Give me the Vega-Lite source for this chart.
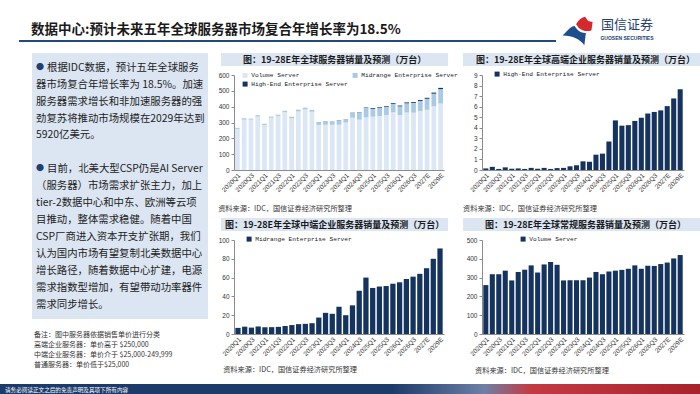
{
  "$schema": "https://vega.github.io/schema/vega-lite/v6.json",
  "background": "white",
  "padding": {"top": 16, "left": 0, "right": 0, "bottom": 0},
  "config": {
    "font": "Noto Sans CJK SC",
    "view": {"stroke": null},
    "axisX": {"labelAngle": -45, "labelFontSize": 6.5, "labelFont": "Liberation Sans", "labelColor": "#333333", "domainColor": "#8c8c8c", "ticks": false, "labelPadding": 2, "labelOverlap": false, "title": null, "grid": false},
    "axisY": {"labelFontSize": 6.5, "labelFont": "Liberation Sans", "labelColor": "#333333", "domainColor": "#8c8c8c", "tickColor": "#8c8c8c", "tickSize": 3, "labelPadding": 2, "title": null, "grid": false},
    "legend": {"symbolType": "square", "symbolSize": 25, "symbolStrokeWidth": 0, "labelFont": "Liberation Mono", "labelFontSize": 6.2, "labelColor": "#222222", "padding": 0, "rowPadding": 2, "columnPadding": 4, "labelOffset": 3, "title": null}
  },
  "datasets": {
    "servers": [
      {"q": "2020Q1", "volume": 260, "midrange": 6.5, "highend": 0.15},
      {"q": "2020Q2", "volume": 318, "midrange": 7.8, "highend": 0.30},
      {"q": "2020Q3", "volume": 318, "midrange": 6.8, "highend": 0.10},
      {"q": "2020Q4", "volume": 337, "midrange": 8.0, "highend": 0.25},
      {"q": "2021Q1", "volume": 285, "midrange": 7.3, "highend": 0.12},
      {"q": "2021Q2", "volume": 330, "midrange": 7.3, "highend": 0.15},
      {"q": "2021Q3", "volume": 342, "midrange": 7.6, "highend": 0.10},
      {"q": "2021Q4", "volume": 365, "midrange": 8.5, "highend": 0.20},
      {"q": "2022Q1", "volume": 327, "midrange": 9.5, "highend": 0.12},
      {"q": "2022Q2", "volume": 370, "midrange": 10.5, "highend": 0.20},
      {"q": "2022Q3", "volume": 383, "midrange": 10.8, "highend": 0.10},
      {"q": "2022Q4", "volume": 368, "midrange": 11.5, "highend": 0.18},
      {"q": "2023Q1", "volume": 285, "midrange": 17.5, "highend": 0.20},
      {"q": "2023Q2", "volume": 286, "midrange": 22.5, "highend": 0.35},
      {"q": "2023Q3", "volume": 286, "midrange": 21.5, "highend": 0.45},
      {"q": "2023Q4", "volume": 286, "midrange": 29.0, "highend": 0.82},
      {"q": "2024Q1", "volume": 300, "midrange": 20.0, "highend": 0.78},
      {"q": "2024Q2", "volume": 330, "midrange": 30.5, "highend": 1.45},
      {"q": "2024Q3", "volume": 318, "midrange": 46.0, "highend": 1.55},
      {"q": "2024Q4", "volume": 332, "midrange": 60.0, "highend": 2.70},
      {"q": "2025Q1", "volume": 337, "midrange": 49.0, "highend": 4.70},
      {"q": "2025Q2", "volume": 341, "midrange": 50.5, "highend": 4.20},
      {"q": "2025Q3", "volume": 347, "midrange": 51.0, "highend": 4.25},
      {"q": "2025Q4", "volume": 365, "midrange": 53.5, "highend": 4.65},
      {"q": "2026Q1", "volume": 347, "midrange": 55.0, "highend": 4.95},
      {"q": "2026Q2", "volume": 363, "midrange": 58.5, "highend": 5.35},
      {"q": "2026Q3", "volume": 362, "midrange": 61.0, "highend": 5.50},
      {"q": "2026Q4", "volume": 372, "midrange": 64.0, "highend": 5.65},
      {"q": "2027E", "volume": 380, "midrange": 70.0, "highend": 6.05},
      {"q": "2028E", "volume": 402, "midrange": 80.0, "highend": 6.78},
      {"q": "2029E", "volume": 420, "midrange": 91.0, "highend": 7.65}
    ],
    "bodytext": [
      {"n": 1, "b": true, "t": "根据IDC数据，预计五年全球服务"},
      {"n": 2, "b": false, "t": "器市场复合年增长率为 18.5%。加速"},
      {"n": 3, "b": false, "t": "服务器需求增长和非加速服务器的强"},
      {"n": 4, "b": false, "t": "劲复苏将推动市场规模在2029年达到"},
      {"n": 5, "b": false, "t": "5920亿美元。"},
      {"n": 7, "b": true, "t": "目前，北美大型CSP仍是AI Server"},
      {"n": 8, "b": false, "t": "（服务器）市场需求扩张主力，加上"},
      {"n": 9, "b": false, "t": "tier-2数据中心和中东、欧洲等云项"},
      {"n": 10, "b": false, "t": "目推动，整体需求稳健。随着中国"},
      {"n": 11, "b": false, "t": "CSP厂商进入资本开支扩张期，我们"},
      {"n": 12, "b": false, "t": "认为国内市场有望复制北美数据中心"},
      {"n": 13, "b": false, "t": "增长路径，随着数据中心扩建，电源"},
      {"n": 14, "b": false, "t": "需求指数型增加，有望带动功率器件"},
      {"n": 15, "b": false, "t": "需求同步增长。"}
    ],
    "notes": [
      {"n": 1, "t": "备注：图中服务器依据销售单价进行分类"},
      {"n": 2, "t": "高端企业服务器：单价高于 $250,000"},
      {"n": 3, "t": "中端企业服务器：单价介于 $25,000-249,999"},
      {"n": 4, "t": "普通服务器：单价低于$25,000"}
    ]
  },
  "spacing": 1,
  "resolve": {"scale": {"color": "independent"}, "legend": {"color": "independent"}},
  "vconcat": [
    {
      "spacing": 17,
      "hconcat": [
        {"width": 1, "height": 1, "data": {"values": [{}]}, "mark": {"type": "text"}, "encoding": {"text": {"value": ""}}},
        {
          "spacing": 5,
          "hconcat": [
            {
              "width": 537,
              "height": 10,
              "data": {"values": [{}]},
              "title": {"text": "数据中心:预计未来五年全球服务器市场复合年增长率为18.5%", "anchor": "start", "frame": "group", "dx": 12, "offset": -5.5, "fontSize": 13.5, "fontWeight": "bold", "color": "#1a1a1a", "font": "Noto Sans CJK SC"},
              "mark": {"type": "rule", "color": "#1f4a7c", "strokeWidth": 2},
              "encoding": {
                "y": {"datum": 0, "type": "quantitative", "scale": {"domain": [0, 1]}, "axis": null},
                "x": {"datum": 0, "type": "quantitative", "scale": {"domain": [0, 1]}, "axis": {"labels": false, "ticks": false, "domain": false, "grid": false, "title": null, "minExtent": 4, "maxExtent": 4}},
                "x2": {"datum": 1}
              }
            },
            {
              "width": 130,
              "height": 10,
              "encoding": {
                "x": {"type": "quantitative", "scale": {"domain": [0, 1]}, "axis": null},
                "y": {"type": "quantitative", "scale": {"domain": [0, 1]}, "axis": null}
              },
              "layer": [
                {
                  "data": {"values": [{}]},
                  "mark": {"type": "point", "filled": true, "opacity": 1, "size": 900, "strokeWidth": 0, "color": "#1f4e8c", "shape": "M -1 0.35 C -0.6 -0.05 -0.4 -0.3 -0.2 -0.28 C 0 0.05 0.3 0.22 0.55 0.18 L 0.45 1 C 0.15 0.6 -0.3 0.35 -1 0.35 Z"},
                  "encoding": {"x": {"datum": 0.12, "type": "quantitative"}, "y": {"datum": 1.08, "type": "quantitative"}}
                },
                {
                  "data": {"values": [{}]},
                  "mark": {"type": "point", "filled": true, "opacity": 1, "size": 900, "strokeWidth": 0, "color": "#d42a2e", "shape": "M -0.1 -0.4 C 0.05 -0.7 0.3 -0.85 0.5 -0.9 L 0.7 -0.62 L 1 -0.55 L 0.92 0.02 C 0.6 0.1 0.3 0.05 0.08 -0.15 Z"},
                  "encoding": {"x": {"datum": 0.12, "type": "quantitative"}, "y": {"datum": 1.08, "type": "quantitative"}}
                },
                {
                  "data": {"values": [{"t": "国信证券"}]},
                  "mark": {"type": "text", "fontSize": 13, "color": "#24406e", "font": "Noto Sans CJK SC"},
                  "encoding": {"x": {"datum": 0.5, "type": "quantitative"}, "y": {"datum": 1.6, "type": "quantitative"}, "text": {"field": "t"}}
                },
                {
                  "data": {"values": [{"t": "GUOSEN SECURITIES"}]},
                  "mark": {"type": "text", "fontSize": 5, "fontWeight": "bold", "color": "#24406e", "font": "Liberation Sans"},
                  "encoding": {"x": {"datum": 0.5, "type": "quantitative"}, "y": {"datum": 0.3, "type": "quantitative"}, "text": {"field": "t"}}
                }
              ]
            }
          ]
        }
      ]
    },
    {
      "spacing": 31,
      "resolve": {"scale": {"color": "independent"}, "legend": {"color": "independent"}},
      "hconcat": [
        {"width": 1, "height": 1, "data": {"values": [{}]}, "mark": {"type": "text"}, "encoding": {"text": {"value": ""}}},
        {
          "spacing": 10,
          "resolve": {"scale": {"color": "independent"}, "legend": {"color": "independent"}},
          "hconcat": [
            {
              "spacing": 11,
              "vconcat": [
                {
                  "width": 176,
                  "height": 266,
                  "view": {"fill": "#dce6f2", "stroke": null},
                  "data": {"name": "bodytext"},
                  "encoding": {
                    "x": {"datum": 0, "type": "quantitative", "scale": {"domain": [0, 1]}, "axis": null},
                    "y": {"field": "n", "type": "quantitative", "scale": {"domain": [0.133, 15.83], "reverse": true, "nice": false, "zero": false}, "axis": null}
                  },
                  "layer": [
                    {
                      "transform": [{"filter": "datum.b"}],
                      "mark": {"type": "text", "align": "left", "baseline": "middle", "dx": 4, "fontSize": 8, "color": "#1f3f73"},
                      "encoding": {"text": {"value": "●"}}
                    },
                    {
                      "transform": [{"filter": "datum.b"}],
                      "mark": {"type": "text", "align": "left", "baseline": "middle", "dx": 15, "fontSize": 10.4, "color": "#222222"},
                      "encoding": {"text": {"field": "t"}}
                    },
                    {
                      "transform": [{"filter": "!datum.b"}],
                      "mark": {"type": "text", "align": "left", "baseline": "middle", "dx": 4, "fontSize": 10.4, "color": "#222222"},
                      "encoding": {"text": {"field": "t"}}
                    }
                  ]
                },
                {
                  "width": 176,
                  "height": 40,
                  "data": {"name": "notes"},
                  "mark": {"type": "text", "align": "left", "baseline": "middle", "dx": 2, "fontSize": 7, "color": "#333333"},
                  "encoding": {
                    "x": {"datum": 0, "type": "quantitative", "scale": {"domain": [0, 1]}, "axis": null},
                    "y": {"field": "n", "type": "quantitative", "scale": {"domain": [0.5, 4.5], "reverse": true, "nice": false, "zero": false}, "axis": null},
                    "text": {"field": "t"}
                  }
                }
              ]
            },
            {
              "columns": 2,
              "align": "each",
              "spacing": {"row": 5, "column": 5},
              "resolve": {"scale": {"color": "independent"}, "legend": {"color": "independent"}},
              "concat": [
                {
                  "width": 214, "height": 13,
                  "encoding": {"x": {"type": "quantitative", "scale": {"domain": [0, 1]}, "axis": null}},
                  "layer": [
                    {"data": {"values": [{}]}, "mark": {"type": "rect", "color": "#dce6f2"}, "encoding": {"x": {"datum": -0.0607, "type": "quantitative"}, "x2": {"datum": 1}}},
                    {"data": {"values": [{"t": "图：19-28E年全球服务器销量及预测（万台）"}]}, "mark": {"type": "text", "fontSize": 9, "fontWeight": "bold", "color": "#1a1a1a"}, "encoding": {"x": {"datum": 0.47, "type": "quantitative"}, "text": {"field": "t"}}}
                  ]
                },
                {
                  "width": 226, "height": 13,
                  "encoding": {"x": {"type": "quantitative", "scale": {"domain": [0, 1]}, "axis": null}},
                  "layer": [
                    {"data": {"values": [{}]}, "mark": {"type": "rect", "color": "#dce6f2"}, "encoding": {"x": {"datum": -0.084, "type": "quantitative"}, "x2": {"datum": 1}}},
                    {"data": {"values": [{"t": "图：19-28E年全球高端企业服务器销量及预测（万台）"}]}, "mark": {"type": "text", "fontSize": 9, "fontWeight": "bold", "color": "#1a1a1a"}, "encoding": {"x": {"datum": 0.458, "type": "quantitative"}, "text": {"field": "t"}}}
                  ]
                },
                {
                  "width": 210, "height": 95,
                  "data": {"name": "servers"},
                  "transform": [{"fold": ["volume", "midrange", "highend"], "as": ["series", "value"]}],
                  "mark": {"type": "bar"},
                  "encoding": {
                    "x": {"field": "q", "type": "nominal", "sort": null, "scale": {"paddingInner": 0.3, "paddingOuter": 0.15}, "axis": {"values": ["2020Q1", "2020Q3", "2021Q1", "2021Q3", "2022Q1", "2022Q3", "2023Q1", "2023Q3", "2024Q1", "2024Q3", "2025Q1", "2025Q3", "2026Q1", "2026Q3", "2027E", "2029E"]}},
                    "y": {"field": "value", "type": "quantitative", "stack": "zero", "scale": {"domain": [0, 600], "nice": false}, "axis": {"values": [0, 100, 200, 300, 400, 500, 600], "minExtent": 13, "maxExtent": 13}},
                    "color": {"field": "series", "type": "nominal", "scale": {"domain": ["volume", "midrange", "highend"], "range": ["#dbe7f4", "#a9c9e4", "#15335f"]}, "legend": {"orient": "none", "legendX": 8, "legendY": -3, "columns": 2, "direction": "horizontal", "labelExpr": "datum.label == 'volume' ? 'Volume Server' : datum.label == 'midrange' ? 'Midrange Enterprise Server' : 'High-End Enterprise Server'"}},
                    "order": {"field": "series", "sort": "descending"}
                  },
                  "title": {"text": "资料来源：IDC，国信证券经济研究所整理", "orient": "bottom", "anchor": "start", "frame": "bounds", "offset": 12, "fontSize": 7.2, "fontWeight": "normal", "color": "#333333"}
                },
                {
                  "width": 202, "height": 95,
                  "data": {"name": "servers"},
                  "mark": {"type": "bar"},
                  "encoding": {
                    "x": {"field": "q", "type": "nominal", "sort": null, "scale": {"paddingInner": 0.22, "paddingOuter": 0.2}, "axis": {"values": ["2020Q1", "2020Q3", "2021Q1", "2021Q3", "2022Q1", "2022Q3", "2023Q1", "2023Q3", "2024Q1", "2024Q3", "2025Q1", "2025Q3", "2026Q1", "2026Q3", "2027E", "2029E"]}},
                    "y": {"field": "highend", "type": "quantitative", "scale": {"domain": [0, 9], "nice": false}, "axis": {"values": [0, 1, 2, 3, 4, 5, 6, 7, 8, 9], "minExtent": 19, "maxExtent": 19}},
                    "color": {"datum": "High-End Enterprise Server", "type": "nominal", "scale": {"range": ["#15335f"]}, "legend": {"orient": "none", "legendX": 12, "legendY": -4}}
                  },
                  "title": {"text": "资料来源：IDC，国信证券经济研究所整理", "orient": "bottom", "anchor": "start", "frame": "bounds", "offset": 12, "fontSize": 7.2, "fontWeight": "normal", "color": "#333333"}
                },
                {
                  "width": 214, "height": 13,
                  "encoding": {"x": {"type": "quantitative", "scale": {"domain": [0, 1]}, "axis": null}},
                  "layer": [
                    {"data": {"values": [{}]}, "mark": {"type": "rect", "color": "#dce6f2"}, "encoding": {"x": {"datum": -0.0607, "type": "quantitative"}, "x2": {"datum": 1}}},
                    {"data": {"values": [{"t": "图：19-28E年全球中端企业服务器销量及预测（万台）"}]}, "mark": {"type": "text", "fontSize": 9, "fontWeight": "bold", "color": "#1a1a1a"}, "encoding": {"x": {"datum": 0.47, "type": "quantitative"}, "text": {"field": "t"}}}
                  ]
                },
                {
                  "width": 226, "height": 13,
                  "encoding": {"x": {"type": "quantitative", "scale": {"domain": [0, 1]}, "axis": null}},
                  "layer": [
                    {"data": {"values": [{}]}, "mark": {"type": "rect", "color": "#dce6f2"}, "encoding": {"x": {"datum": -0.084, "type": "quantitative"}, "x2": {"datum": 1}}},
                    {"data": {"values": [{"t": "图：19-28E年全球常规服务器销量及预测（万台）"}]}, "mark": {"type": "text", "fontSize": 9, "fontWeight": "bold", "color": "#1a1a1a"}, "encoding": {"x": {"datum": 0.458, "type": "quantitative"}, "text": {"field": "t"}}}
                  ]
                },
                {
                  "width": 210, "height": 94,
                  "data": {"name": "servers"},
                  "mark": {"type": "bar"},
                  "encoding": {
                    "x": {"field": "q", "type": "nominal", "sort": null, "scale": {"paddingInner": 0.22, "paddingOuter": 0.2}, "axis": {"values": ["2020Q1", "2020Q3", "2021Q1", "2021Q3", "2022Q1", "2022Q3", "2023Q1", "2023Q3", "2024Q1", "2024Q3", "2025Q1", "2025Q3", "2026Q1", "2026Q3", "2027E", "2029E"]}},
                    "y": {"field": "midrange", "type": "quantitative", "scale": {"domain": [0, 100], "nice": false}, "axis": {"values": [0, 20, 40, 60, 80, 100], "minExtent": 13, "maxExtent": 13}},
                    "color": {"datum": "Midrange Enterprise Server", "type": "nominal", "scale": {"range": ["#15335f"]}, "legend": {"orient": "none", "legendX": 12, "legendY": -4}}
                  },
                  "title": {"text": "资料来源：IDC，国信证券经济研究所整理", "orient": "bottom", "anchor": "start", "frame": "bounds", "dx": 5, "offset": 9, "fontSize": 7.2, "fontWeight": "normal", "color": "#333333"}
                },
                {
                  "width": 202, "height": 94,
                  "data": {"name": "servers"},
                  "mark": {"type": "bar"},
                  "encoding": {
                    "x": {"field": "q", "type": "nominal", "sort": null, "scale": {"paddingInner": 0.22, "paddingOuter": 0.2}, "axis": {"values": ["2020Q1", "2020Q3", "2021Q1", "2021Q3", "2022Q1", "2022Q3", "2023Q1", "2023Q3", "2024Q1", "2024Q3", "2025Q1", "2025Q3", "2026Q1", "2026Q3", "2027E", "2029E"]}},
                    "y": {"field": "volume", "type": "quantitative", "scale": {"domain": [0, 500], "nice": false}, "axis": {"values": [0, 100, 200, 300, 400, 500], "minExtent": 19, "maxExtent": 19}},
                    "color": {"datum": "Volume Server", "type": "nominal", "scale": {"range": ["#15335f"]}, "legend": {"orient": "none", "legendX": 38, "legendY": -4}}
                  },
                  "title": {"text": "资料来源：IDC，国信证券经济研究所整理", "orient": "bottom", "anchor": "start", "frame": "bounds", "dx": 12, "offset": 10, "fontSize": 7.2, "fontWeight": "normal", "color": "#333333"}
                }
              ]
            }
          ]
        }
      ]
    },
    {
      "width": 700,
      "height": 11,
      "view": {"fill": "#1c3a6a", "stroke": null},
      "encoding": {
        "x": {"type": "quantitative", "scale": {"domain": [0, 1]}, "axis": {"orient": "top", "labels": false, "ticks": false, "domain": false, "grid": false, "title": null, "minExtent": 8, "maxExtent": 8}}
      },
      "layer": [
        {
          "data": {"values": [{}]},
          "mark": {"type": "rect", "fill": {"gradient": "linear", "x1": 0, "y1": 0, "x2": 1, "y2": 0, "stops": [{"offset": 0, "color": "#1c3a6a"}, {"offset": 0.3, "color": "#6e7fa6"}, {"offset": 0.45, "color": "#c43a42"}, {"offset": 1, "color": "#a8222b"}]}},
          "encoding": {"x": {"datum": 0.56, "type": "quantitative"}, "x2": {"datum": 1}}
        },
        {
          "data": {"values": [{"t": "请务必阅读正文之后的免责声明及其项下所有内容"}]},
          "mark": {"type": "text", "align": "left", "baseline": "middle", "dx": 5, "fontSize": 5.6, "color": "white"},
          "encoding": {"x": {"datum": 0, "type": "quantitative"}, "text": {"field": "t"}}
        }
      ]
    }
  ]
}
